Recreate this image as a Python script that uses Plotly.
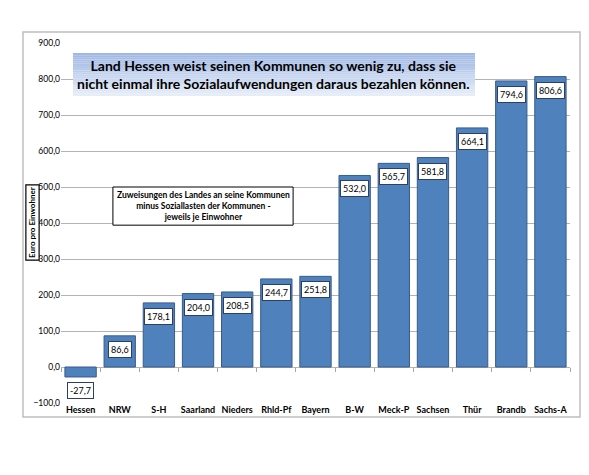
import plotly.graph_objects as go

categories = ["Hessen", "NRW", "S-H", "Saarland", "Nieders", "Rhld-Pf", "Bayern",
              "B-W", "Meck-P", "Sachsen", "Thür", "Brandb", "Sachs-A"]
values = [-27.7, 86.6, 178.1, 204.0, 208.5, 244.7, 251.8,
          532.0, 565.7, 581.8, 664.1, 794.6, 806.6]
y_ticks = [-100, 0, 100, 200, 300, 400, 500, 600, 700, 800, 900]
y_min, y_max = -100, 900

title_text = ("Land Hessen weist seinen Kommunen so wenig zu, dass sie<br>"
              "nicht einmal ihre Sozialaufwendungen daraus bezahlen können.")
sub_text = ("Zuweisungen des Landes an seine Kommunen<br>"
            "minus Soziallasten der Kommunen -<br>jeweils je Einwohner")
ytitle_text = "Euro pro Einwohner"

FONT = "Lato"

fig = go.Figure()
fig.add_trace(go.Bar(
    x=categories, y=values,
    marker=dict(color="#4F81BD", line=dict(color="#385D8A", width=1)),
    hoverinfo="skip",
))
# invisible trace on a second x axis sitting on the zero line (for tick marks)
fig.add_trace(go.Scatter(
    x=categories, y=values, xaxis="x2", yaxis="y",
    mode="markers", marker=dict(opacity=0), hoverinfo="skip", showlegend=False,
))

annotations = []
for c, v in zip(categories, values):
    annotations.append(dict(
        x=c, y=v, xref="x", yref="y", yanchor="top", yshift=-5,
        text=f"{v:.1f}".replace(".", ","), showarrow=False,
        font=dict(family=FONT, size=9, color="#000000"),
        bgcolor="white", bordercolor="#2F3F5F", borderwidth=1, borderpad=2,
    ))

annotations.append(dict(
    x=0.418, y=0.9125, xref="paper", yref="paper", xanchor="center", yanchor="middle",
    text="<b>" + title_text + "</b>", showarrow=False,
    font=dict(family=FONT, size=14, color="#000000"), align="center",
))
annotations.append(dict(
    x=0.279, y=0.547, xref="paper", yref="paper", xanchor="center", yanchor="middle",
    text="<b>" + sub_text + "</b>", showarrow=False,
    font=dict(family=FONT, size=8.5, color="#000000"), align="center",
))
annotations.append(dict(
    x=-0.056, y=0.5015, xref="paper", yref="paper", xanchor="center", yanchor="middle",
    text="<b>" + ytitle_text + "</b>", showarrow=False, textangle=-90,
    font=dict(family=FONT, size=8, color="#000000"),
))

shapes = []
# gradient title box via bands
x0, x1 = 0.0236, 0.8134
yb, yt = 0.853, 0.972
n = 20
top_col = (160, 184, 228)
bot_col = (230, 237, 249)
for i in range(n):
    t = i / (n - 1)
    col = tuple(int(top_col[k] + (bot_col[k] - top_col[k]) * t) for k in range(3))
    shapes.append(dict(type="rect", xref="paper", yref="paper",
                       x0=x0, x1=x1,
                       y0=yt - (yt - yb) * (i + 1) / n, y1=yt - (yt - yb) * i / n,
                       fillcolor="rgb(%d,%d,%d)" % col, line=dict(width=0),
                       layer="above"))
# subtitle box
shapes.append(dict(type="rect", xref="paper", yref="paper",
                   x0=0.102, x1=0.456, y0=0.494, y1=0.600,
                   fillcolor="white", line=dict(color="#000000", width=1)))
# y title box
shapes.append(dict(type="rect", xref="paper", yref="paper",
                   x0=-0.069, x1=-0.043, y0=0.397, y1=0.606,
                   fillcolor="white", line=dict(color="#000000", width=1.2)))
# outer frame
shapes.append(dict(type="rect", xref="paper", yref="paper",
                   x0=-0.0747, x1=1.0197, y0=-0.0389, y1=1.0306,
                   fillcolor="rgba(0,0,0,0)", line=dict(color="#BFBFBF", width=1.5)))

zero_pos = (0 - y_min) / (y_max - y_min)
x_range = [-0.5, len(categories) - 0.5]

fig.update_layout(
    width=589, height=475,
    margin=dict(l=53, r=27, t=35, b=80),
    paper_bgcolor="white", plot_bgcolor="white",
    separators=",.",
    showlegend=False,
    bargap=0.2,
    font=dict(family=FONT),
    xaxis=dict(
        range=x_range, autorange=False,
        tickfont=dict(family=FONT, size=9, color="#000000", weight="bold"),
        showgrid=False, showline=False, ticks="",
    ),
    xaxis2=dict(
        overlaying="x", anchor="free", position=zero_pos,
        range=x_range, autorange=False,
        showticklabels=False, ticks="outside", tickson="boundaries",
        ticklen=4, tickcolor="#A6A6A6", showgrid=False, showline=False,
    ),
    yaxis=dict(
        range=[y_min, y_max], tickvals=y_ticks, tickformat=".1f",
        tickfont=dict(family=FONT, size=8.5, color="#000000"),
        showgrid=True, gridcolor="#B3B3B3", gridwidth=1,
        zeroline=True, zerolinecolor="#B3B3B3", zerolinewidth=1,
        showline=False, ticks="",
    ),
    annotations=annotations,
    shapes=shapes,
)

fig.write_html("out.html")
